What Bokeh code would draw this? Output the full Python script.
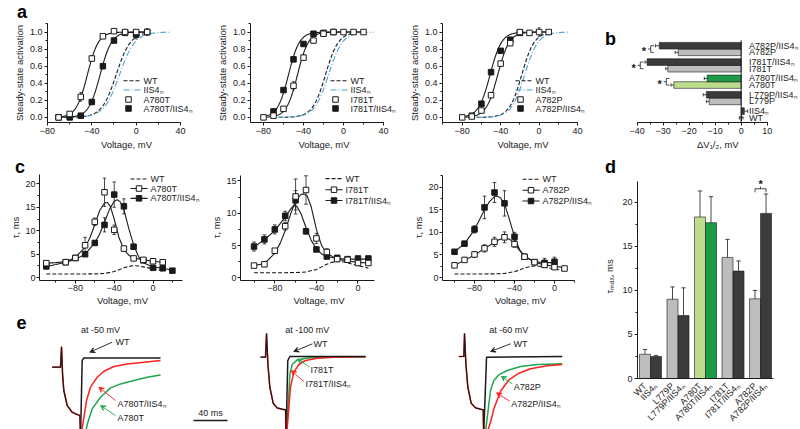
import numpy as np
from bokeh.plotting import figure
from bokeh.layouts import row, column
from bokeh.models import (Range1d, SingleIntervalTicker, FixedTicker, Arrow, VeeHead,
                          PrintfTickFormatter, Div)
from bokeh.core.properties import value
from bokeh.embed import file_html
from bokeh.resources import INLINE

FONT = "Liberation Sans"
IIS4 = "IIS4\u2099"
INK = "#1a1a1a"
LIGHT = "#bdbdbd"
DARK = "#3b3b3b"
LGREEN = "#bcdd8e"
GREEN = "#1d9b45"
BLUE = "#4aa5d0"
RED = "#ff2020"
TGREEN = "#20a64c"

# ---------------- panel a : steady-state activation ----------------
WT_FIT = (-18.0, 6.5)          # V1/2, slope
IIS4_FIT = (-15.0, 7.0)

a1_V = [-70, -60, -50, -40, -30, -20, -10, 0, 10]
a1_mut = [0.0, 0.04, 0.24, 0.69, 0.95, 1.01, 1.0, 1.0, 1.0]
a1_mut_err = [0.0, 0.01, 0.05, 0.03, 0.02, 0.02, 0.02, 0.02, 0.04]
a1_dbl_V = [-70, -60, -50, -40, -30, -20, -10, 0, 10]
a1_dbl = [0.0, 0.0, 0.02, 0.18, 0.6, 0.9, 0.99, 0.97, 1.0]
a1_dbl_err = [0.0, 0.0, 0.01, 0.03, 0.03, 0.02, 0.02, 0.05, 0.02]
a1_fit_mut = (-44.0, 5.0)
a1_fit_dbl = (-32.5, 5.2)

a2_V = [-80, -70, -60, -50, -40, -30, -20, -10, 0, 10, 20]
a2_mut = [0.0, 0.02, 0.1, 0.37, 0.7, 0.9, 0.98, 1.0, 1.0, 1.0, 1.0]
a2_mut_err = [0, 0, 0.02, 0.05, 0.03, 0.02, 0.01, 0.01, 0.01, 0.01, 0.01]
a2_dbl_V = [-70, -60, -50, -40, -30, -20, -10]
a2_dbl = [0.07, 0.32, 0.68, 0.86, 0.98, 0.99, 1.0]
a2_dbl_err = [0.01, 0.02, 0.03, 0.02, 0.02, 0.01, 0.01]
a2_fit_mut = (-46.0, 5.5)
a2_fit_dbl = (-55.0, 5.5)

a3_V = [-80, -70, -60, -50, -40, -30, -20, -10, 0, 10]
a3_mut = [0.0, 0.01, 0.08, 0.26, 0.63, 0.87, 1.0, 0.99, 1.0, 1.0]
a3_mut_err = [0, 0, 0.01, 0.03, 0.03, 0.02, 0.02, 0.02, 0.05, 0.02]
a3_dbl_V = [-70, -60, -50, -40, -30, -20]
a3_dbl = [0.02, 0.16, 0.53, 0.78, 0.91, 0.99]
a3_dbl_err = [0.01, 0.02, 0.03, 0.02, 0.02, 0.01]
a3_fit_mut = (-43.0, 6.0)
a3_fit_dbl = (-51.0, 6.0)

# ---------------- panel b : shift of V1/2 ----------------
b_labels = ["WT", IIS4, "L779P", "L779P/" + IIS4, "A780T", "A780T/" + IIS4,
            "I781T", "I781T/" + IIS4, "A782P", "A782P/" + IIS4]
b_dv = [0.0, 1.2, -12.3, -13.4, -25.9, -13.1, -28.2, -36.2, -24.2, -31.5]
b_err = [0.7, 1.3, 1.0, 1.2, 1.1, 1.1, 0.8, 0.8, 1.2, 1.5]
b_colors = [LIGHT, DARK, LIGHT, DARK, LGREEN, GREEN, LIGHT, DARK, LIGHT, DARK]
b_sig_pairs = [(4, 5), (6, 7), (8, 9)]

# ---------------- panel c : activation time constants ----------------
c_wt_V = [-110, -100, -90, -80, -70, -60, -50, -40, -35, -30, -25, -20, -15, -10, 0, 10]
c_wt_tau = [0.8, 0.8, 0.8, 0.8, 0.8, 0.82, 0.9, 1.3, 1.7, 2.1, 2.4, 2.55, 2.5, 2.3, 1.9, 1.5]

c1_V = [-110, -90, -80, -70, -60, -50, -40, -30, -20, -10, 0, 10]
c1_mut = [3.1, 3.3, 4.2, 6.9, 11.9, 18.2, 10.2, 6.2, 4.1, 3.8, 3.5, 3.3]
c1_mut_err = [0.2, 0.2, 0.3, 1.7, 0.8, 3.0, 1.0, 0.5, 0.3, 0.3, 0.3, 0.3]
c1_dbl_V = [-110, -90, -80, -70, -60, -50, -40, -30, -20, -10, 0, 10, 20]
c1_dbl = [2.4, 3.3, 4.2, 5.0, 7.4, 11.25, 17.7, 15.2, 6.6, 3.7, 2.1, 2.0, 1.5]
c1_dbl_err = [0.2, 0.2, 0.3, 0.4, 0.5, 1.5, 2.7, 1.6, 0.5, 0.3, 0.2, 0.2, 0.1]
c1_fitV_mut = [-110, -100, -90, -80, -70, -65, -60, -55, -50, -47, -44, -40, -35, -30, -25, -20, -10, 0, 10]
c1_fit_mut = [3.1, 3.2, 3.4, 4.3, 6.5, 8.5, 11.3, 14.3, 15.9, 16.0, 15.2, 12.5, 8.5, 6.0, 4.8, 4.2, 3.8, 3.5, 3.3]
c1_fitV_dbl = [-110, -100, -90, -80, -70, -60, -55, -50, -45, -40, -37, -34, -30, -25, -20, -15, -10, 0, 10, 20]
c1_fit_dbl = [2.4, 2.8, 3.3, 3.9, 5.0, 7.4, 9.3, 11.8, 14.5, 16.3, 16.6, 16.2, 14.5, 10.5, 7.0, 4.5, 3.2, 2.3, 2.0, 1.6]

c2_V = [-100, -90, -80, -70, -60, -50, -40, -30, -20, -10, 0, 10]
c2_mut = [1.9, 2.1, 4.2, 8.0, 12.6, 13.6, 6.1, 4.0, 2.9, 2.8, 2.3, 2.3]
c2_mut_err = [0.2, 0.2, 0.3, 0.6, 2.7, 2.2, 0.8, 0.5, 0.3, 0.2, 0.4, 0.3]
c2_dbl_V = [-100, -90, -80, -70, -60, -50, -40, -30, -20, -10, 0, 10]
c2_dbl = [4.85, 5.95, 7.5, 9.6, 12.0, 7.2, 4.4, 3.3, 3.1, 2.9, 3.0, 3.0]
c2_dbl_err = [0.7, 0.7, 0.7, 0.7, 1.5, 0.4, 0.3, 0.3, 0.3, 0.2, 0.3, 0.3]
c2_fitV_mut = [-100, -90, -80, -75, -70, -65, -60, -55, -52, -49, -45, -40, -35, -30, -20, -10, 0, 10]
c2_fit_mut = [1.9, 2.2, 3.8, 5.3, 7.3, 9.8, 11.9, 12.9, 13.0, 12.7, 11.0, 7.5, 5.0, 3.8, 2.9, 2.6, 2.4, 2.3]
c2_fitV_dbl = [-100, -90, -80, -70, -65, -62, -59, -55, -50, -45, -40, -35, -30, -20, -10, 0, 10]
c2_fit_dbl = [4.8, 5.9, 7.3, 9.4, 10.6, 11.2, 11.1, 10.0, 7.8, 5.8, 4.5, 3.7, 3.3, 3.0, 2.9, 2.9, 2.9]

c3_V = [-100, -90, -80, -70, -60, -50, -40, -30, -20, -10, 0, 10]
c3_mut = [2.7, 3.9, 5.1, 6.45, 7.9, 8.9, 7.4, 4.6, 3.4, 2.8, 2.3, 2.0]
c3_mut_err = [0.3, 0.4, 0.6, 0.8, 1.0, 1.2, 0.7, 0.4, 0.3, 0.3, 0.3, 0.3]
c3_dbl_V = [-100, -90, -80, -70, -60, -50, -40, -30, -20, -10, 0]
c3_dbl = [5.7, 7.5, 10.65, 15.5, 18.8, 16.4, 9.0, 4.6, 3.4, 3.25, 3.5]
c3_dbl_err = [0.4, 0.5, 0.8, 2.5, 2.2, 2.8, 1.0, 0.4, 0.4, 1.0, 1.0]
c3_fitV_mut = [-100, -90, -80, -70, -60, -55, -50, -45, -40, -35, -30, -20, -10, 0, 10]
c3_fit_mut = [2.7, 3.8, 5.0, 6.4, 7.8, 8.4, 8.7, 8.5, 7.5, 6.0, 4.7, 3.4, 2.8, 2.5, 2.2]
c3_fitV_dbl = [-100, -90, -80, -75, -70, -65, -60, -57, -54, -50, -45, -40, -35, -30, -20, -10, 0]
c3_fit_dbl = [5.7, 7.5, 10.6, 12.8, 15.0, 16.8, 17.9, 18.0, 17.6, 16.3, 12.8, 9.0, 6.2, 4.7, 3.5, 3.3, 3.3]

# ---------------- panel d : tau max ----------------
d_labels = b_labels
d_tau = [2.75, 2.5, 9.0, 7.15, 18.35, 17.7, 13.75, 12.2, 9.05, 18.75]
d_err = [0.55, 0.12, 1.4, 3.15, 2.95, 2.95, 2.05, 1.15, 0.95, 2.2]
d_colors = b_colors
d_sig_pairs = [(8, 9)]

# ---------------- panel e : current traces (time ms, current a.u.) ----------------
e1_pre_t = [-11, -1.2, 0, 1.2, 2.7, 6.7, 12.5, 18.4, 21.6, 22.4]
e1_pre_I = [0, 0, 2.0, -0.67, -2.33, -3.83, -4.5, -4.73, -4.83, -7.0]
e1_wt_t = [22.4, 24.3, 26.3, 116.5]
e1_wt_I = [-7.0, 0.67, 0.93, 0.93]
e1_dbl_t = [22.4, 25.5, 29.4, 34.1, 42, 49.8, 61.6, 77.3, 96.9, 116.5]
e1_dbl_I = [-7.0, -5.5, -3.33, -2.0, -1.0, -0.4, 0.07, 0.33, 0.5, 0.67]
e1_mut_t = [24, 31, 36, 45.9, 57.6, 69.4, 85.1, 100.8, 116.5]
e1_mut_I = [-8.0, -5.5, -4.17, -3.0, -2.07, -1.67, -1.33, -1.0, -0.77]

e2_pre_t = [-7, -1.2, 0, 1.6, 3.9, 7.8, 12.5, 18.4, 22.4, 23]
e2_pre_I = [0, 0, 2.33, -0.67, -3.0, -4.6, -5.07, -5.2, -5.27, -8.0]
e2_wt_t = [23, 25, 27.5, 116.5]
e2_wt_I = [-8.0, -0.33, 0.07, 0.07]
e2_mut_t = [23.5, 27.5, 30.2, 36.1, 47.8, 71.4, 116.5]
e2_mut_I = [-8.0, -1.67, -0.73, -0.27, -0.07, 0.0, 0.05]
e2_dbl_t = [23.5, 28.2, 32.2, 38, 45.9, 59.6, 79, 116.5]
e2_dbl_I = [-8.0, -3.0, -1.5, -0.73, -0.33, -0.1, 0.0, 0.05]

e3_pre_t = [-6.7, -0.8, 0, 1.6, 3.9, 7.8, 12.9, 18.8, 22, 22.5]
e3_pre_I = [0, 0, 2.27, -0.73, -3.07, -4.67, -5.13, -5.27, -5.33, -8.0]
e3_wt_t = [22.5, 25.9, 114.9]
e3_wt_I = [-8.0, -0.07, 0.0]
e3_mut_t = [24, 28.2, 30.6, 34.5, 40.4, 50.2, 65.9, 85.5, 114.9]
e3_mut_I = [-8.0, -5.07, -3.4, -2.4, -1.83, -1.4, -1.0, -0.8, -0.73]
e3_dbl_t = [25, 30.6, 34.5, 42.4, 52.2, 63.9, 77.6, 97.3, 114.9]
e3_dbl_I = [-8.0, -6.57, -5.23, -3.47, -2.33, -1.67, -1.23, -0.93, -0.8]


def boltz(v, vh, k):
    return 1.0 / (1.0 + np.exp((vh - v) / k))


class Geo:
    """Frame geometry of a figure placed at page offset (ox, oy): page px -> data."""
    def __init__(self, ox, oy, w, h, bl, br, bt, bb, xr, yr):
        self.fl, self.fr = ox + bl, ox + w - br
        self.ft, self.fb = oy + bt, oy + h - bb
        self.xr, self.yr = xr, yr

    def x(self, X):
        return self.xr[0] + (X - self.fl) / (self.fr - self.fl) * (self.xr[1] - self.xr[0])

    def y(self, Y):
        return self.yr[1] - (Y - self.ft) / (self.fb - self.ft) * (self.yr[1] - self.yr[0])


def make_fig(ox, oy, w, h, xr, yr, bl, br, bt, bb, xaxis=True, yaxis=True, lab_off=2,
             ax_off=2):
    kw = dict(width=w, height=h, x_range=Range1d(*xr), y_range=Range1d(*yr),
              output_backend="svg", toolbar_location=None,
              min_border_left=bl, min_border_right=br, min_border_top=bt, min_border_bottom=bb)
    if not xaxis:
        kw["x_axis_location"] = None
    if not yaxis:
        kw["y_axis_location"] = None
    p = figure(**kw)
    p.grid.visible = False
    p.outline_line_color = None
    p.border_fill_color = "white"
    p.background_fill_color = "white"
    for ax in p.axis:
        ax.axis_line_color = INK
        ax.axis_line_width = 1
        ax.major_tick_line_color = INK
        ax.minor_tick_line_color = INK
        ax.major_tick_in = 0
        ax.major_tick_out = 3
        ax.minor_tick_in = 0
        ax.minor_tick_out = 2
        ax.major_label_text_font = FONT
        ax.major_label_text_font_size = "9px"
        ax.major_label_text_color = INK
        ax.axis_label_text_font = FONT
        ax.axis_label_text_font_size = "9.5px"
        ax.axis_label_text_font_style = "normal"
        ax.axis_label_text_color = INK
        ax.major_label_standoff = lab_off
        ax.axis_label_standoff = ax_off
    return p, Geo(ox, oy, w, h, bl, br, bt, bb, xr, yr)


def letter_div(w, h, txt, cx, base):
    top = base - (h / 2.0 + 6.25)
    html = ('<div style="position:relative;left:%.1fpx;top:%.1fpx;width:20px;height:%dpx;'
            'text-align:center;font-family:\'Liberation Sans\',sans-serif;font-weight:bold;'
            'font-size:18px;line-height:%dpx;color:#000;">%s</div>'
            % (cx - 10, top, h, h, txt))
    return Div(text=html, width=w, height=h, margin=0)


def letter_in(p, txt, x, y):
    p.text(x=[x], y=[y], text=[txt], text_font=value(FONT), text_font_style="bold",
           text_font_size="18px", text_align="center", text_baseline="alphabetic",
           text_color="black")


def txt(p, x, y, s, size="9px", align="left"):
    p.text(x=[x], y=[y], text=[s], text_font=value(FONT), text_font_size=size,
           text_align=align, text_baseline="middle", text_color=INK)


def v_err(p, x, y, e, cap, up_only=False, lw=0.8):
    x = np.asarray(x, float)
    y = np.asarray(y, float)
    e = np.asarray(e, float)
    m = e > 0
    x, y, e = x[m], y[m], e[m]
    lo = y if up_only else y - e
    hi = y + e
    p.segment(x, lo, x, hi, line_color=INK, line_width=lw)
    p.segment(x - cap, hi, x + cap, hi, line_color=INK, line_width=lw)
    if not up_only:
        p.segment(x - cap, lo, x + cap, lo, line_color=INK, line_width=lw)


LINE_WT = dict(line_color=INK, line_width=1.1, line_dash="4 2")
LINE_II = dict(line_color=BLUE, line_width=1.1, line_dash="6 2 1 2")
LINE_FIT = dict(line_color=INK, line_width=1.1)
MK_OPEN = dict(marker="square", size=5.5, fill_color="white", line_color=INK, line_width=1)
MK_FILL = dict(marker="square", size=5.5, fill_color=INK, line_color=INK)


def manual_legend(p, g, entries, gx0, gx1, tx, rows, mk_x=None):
    for (label, line_st, mk_st), Y in zip(entries, rows):
        y = g.y(Y)
        if line_st is not None:
            p.line([g.x(gx0), g.x(gx1)], [y, y], **line_st)
        if mk_st is not None:
            mx = mk_x if mk_x is not None else 0.5 * (gx0 + gx1)
            p.scatter([g.x(mx)], [y], **mk_st)
        txt(p, g.x(tx), y, label)


def panel_a(ox, oy, w, h, bt, bl, xr, xb, V_m, y_m, e_m, V_d, y_d, e_d, fit_m, fit_d, crange,
            name, gx0):
    p, g = make_fig(ox, oy, w, h, xr, (-0.06, 1.1), bl, 0, bt, 30)
    p.xaxis.bounds = xb
    p.xaxis.ticker = SingleIntervalTicker(interval=40, num_minor_ticks=2)
    p.yaxis.ticker = SingleIntervalTicker(interval=0.2, num_minor_ticks=2)
    p.yaxis.formatter = PrintfTickFormatter(format="%.1f")
    p.xaxis.axis_label = "Voltage, mV"
    p.yaxis.axis_label = "Steady-state activation"
    vw = np.linspace(-65, 10, 150)
    p.line(vw, boltz(vw, *WT_FIT), **LINE_WT)
    vi = np.linspace(-65, 30, 150)
    p.line(vi, boltz(vi, *IIS4_FIT), **LINE_II)
    vc = np.linspace(crange[0], crange[1], 200)
    p.line(vc, boltz(vc, *fit_m), **LINE_FIT)
    p.line(vc, boltz(vc, *fit_d), **LINE_FIT)
    v_err(p, V_d, y_d, e_d, 1.2)
    v_err(p, V_m, y_m, e_m, 1.2)
    p.scatter(V_d, y_d, **MK_FILL)
    p.scatter(V_m, y_m, **MK_OPEN)
    manual_legend(p, g, [("WT", LINE_WT, None), (IIS4, LINE_II, None),
                         (name, None, MK_OPEN), (name + "/" + IIS4, None, MK_FILL)],
                  gx0, gx0 + 17, gx0 + 20, [80.3, 89.5, 99.0, 108.0], mk_x=gx0 + 5)
    return p


def panel_c(ox, oy, w, h, bl, bt, xr, xb, yr, yb, V_m, y_m, e_m, V_d, y_d, e_d, fV_m, f_m,
            fV_d, f_d, wt_from, name, gx0, rows):
    p, g = make_fig(ox, oy, w, h, xr, yr, bl, 0, bt, 26, lab_off=1, ax_off=1)
    p.xaxis.bounds = xb
    p.yaxis.bounds = yb
    p.xaxis.ticker = SingleIntervalTicker(interval=40, num_minor_ticks=2)
    p.yaxis.ticker = SingleIntervalTicker(interval=5, num_minor_ticks=2)
    p.xaxis.axis_label = "Voltage, mV"
    p.yaxis.axis_label = "\u03c4, ms"
    p.line(c_wt_V[wt_from:], c_wt_tau[wt_from:], **LINE_WT)
    p.line(fV_m, f_m, **LINE_FIT)
    p.line(fV_d, f_d, **LINE_FIT)
    v_err(p, V_d, y_d, e_d, 1.8)
    v_err(p, V_m, y_m, e_m, 1.8)
    p.scatter(V_d, y_d, **MK_FILL)
    p.scatter(V_m, y_m, **MK_OPEN)
    manual_legend(p, g, [("WT", LINE_WT, None), (name, LINE_FIT, MK_OPEN),
                         (name + "/" + IIS4, LINE_FIT, MK_FILL)],
                  gx0, gx0 + 17, gx0 + 20, rows)
    return p


def panel_e(ox, w, xr, yr, pre_t, pre_I, traces, texts, arrows):
    p, g = make_fig(ox, 308, w, 121, xr, yr, 0, 0, 0, 0, xaxis=False, yaxis=False)
    for t, I, c in traces:
        p.line(t, I, line_color=c, line_width=1.5, line_join="round")
    p.line(pre_t, pre_I, line_color=RED, line_width=1.6, line_join="round")
    p.line(pre_t, pre_I, line_color=INK, line_width=1.2, line_join="round")
    for s, x, y, al in texts:
        txt(p, x, y, s, align=al)
    for x0, y0, x1, y1, c in arrows:
        p.add_layout(Arrow(x_start=x0, y_start=y0, x_end=x1, y_end=y1, line_color=c,
                           line_width=0.9,
                           end=VeeHead(size=5, line_color=c, fill_color=c, line_width=0.9)))
    return p


# ---------------- row 1 (y 0-152) ----------------
sa = letter_div(205, 23, "a", 22, 18.5)
pa1 = panel_a(0, 23, 205, 129, 0, 47, (-80, 62.6), (-80, 40), a1_V, a1_mut, a1_mut_err,
              a1_dbl_V, a1_dbl, a1_dbl_err, a1_fit_mut, a1_fit_dbl, (-70, 10), "A780T", 123)
pa2 = panel_a(205, 0, 192, 152, 23, 45, (-93, 54), (-93, 40), a2_V, a2_mut, a2_mut_err,
              a2_dbl_V, a2_dbl, a2_dbl_err, a2_fit_mut, a2_fit_dbl, (-80, 20), "I781T", 330)
pa3 = panel_a(397, 0, 206, 152, 23, 45, (-100.5, 67.0), (-100.5, 40), a3_V, a3_mut,
              a3_mut_err, a3_dbl_V, a3_dbl, a3_dbl_err, a3_fit_mut, a3_fit_dbl, (-80, 10),
              "A782P", 515)

# panel b
pb, gb = make_fig(603, 0, 197, 152, (-52.96, 22.81), (-0.22, 14.74), 0, 0, 0, 28, yaxis=False)
pb.xaxis.bounds = (-40, 10)
pb.xaxis.ticker = SingleIntervalTicker(interval=10, num_minor_ticks=2)
pb.xaxis.axis_label = "\u00a0" * 12 + "\u0394V\u2081/\u2082, mV"
b_y = [(i // 2) * 2.47 + 0.5 + (i % 2) for i in range(len(b_dv))]
b_left = [min(0.0, v) for v in b_dv]
b_right = [max(0.0, v) for v in b_dv]
pb.hbar(y=b_y, left=b_left, right=b_right, height=1.0, fill_color=b_colors,
        line_color=INK, line_width=0.6)
ex0, ex1, ey, cx, cy0, cy1 = [], [], [], [], [], []
for v, e, y in zip(b_dv, b_err, b_y):
    if v < 0:
        s0, s1 = v, v - e
        caps = [s1]
    elif v > 0:
        s0, s1 = v, v + e
        caps = [s1]
    else:
        s0, s1 = -e, e
        caps = [-e, e]
    ex0.append(s0); ex1.append(s1); ey.append(y)
    for c in caps:
        cx.append(c); cy0.append(y - 0.25); cy1.append(y + 0.25)
pb.segment(ex0, ey, ex1, ey, line_color=INK, line_width=0.8)
pb.segment(cx, cy0, cx, cy1, line_color=INK, line_width=0.8)
pb.segment([0], [-0.22], [0], [12.2], line_color=INK, line_width=1)
pb.text(x=[3.0] * len(b_y), y=b_y, text=b_labels, text_font=value(FONT), text_font_size="9px",
        text_align="left", text_baseline="middle", text_color=INK)
for lo, hi in b_sig_pairs:
    xb = min(b_dv[lo] - b_err[lo], b_dv[hi] - b_err[hi]) - 1.8
    y0, y1 = b_y[lo], b_y[hi]
    ym = 0.5 * (y0 + y1)
    pb.segment([xb, xb, xb, xb - 1.0], [y0, y0, y1, ym], [xb, xb + 1.2, xb + 1.2, xb],
               [y1, y0, y1, ym], line_color=INK, line_width=0.8)
    pb.text(x=[xb - 2.6], y=[ym - 0.35], text=["*"], text_font=value(FONT),
            text_font_size="11px", text_font_style="bold", text_align="center",
            text_baseline="middle", text_color=INK)
letter_in(pb, "b", gb.x(610), gb.y(19))

# ---------------- letter strip (y 152-174) ----------------
sc = letter_div(598, 22, "c", 20, 21.3)
sd = letter_div(202, 22, "d", 12.5, 21.3)

# ---------------- row 2 : c (y 174-308) ----------------
pc1 = panel_c(0, 174, 205, 134, 39, 0, (-117, 54.1), (-117, 30), (-0.6, 21.98), (-0.6, 21.98),
              c1_V, c1_mut, c1_mut_err, c1_dbl_V, c1_dbl, c1_dbl_err, c1_fitV_mut, c1_fit_mut,
              c1_fitV_dbl, c1_fit_dbl, 0, "A780T", 130, [178.6, 188.3, 198.3])
pc2 = panel_c(205, 174, 192, 134, 35, 0, (-113, 38), (-113, 16), (-0.41, 16.0), (-0.41, 15.9),
              c2_V, c2_mut, c2_mut_err, c2_dbl_V, c2_dbl, c2_dbl_err, c2_fitV_mut, c2_fit_mut,
              c2_fitV_dbl, c2_fit_dbl, 1, "I781T", 325, [178.2, 189.5, 200.5])
pc3 = panel_c(397, 174, 201, 134, 45, 0, (-112, 44), (-112, 20), (-0.65, 22.78), (-0.65, 22.6),
              c3_V, c3_mut, c3_mut_err, c3_dbl_V, c3_dbl, c3_dbl_err, c3_fitV_mut, c3_fit_mut,
              c3_fitV_dbl, c3_fit_dbl, 1, "A782P", 522, [178.8, 190.0, 201.0])

# ---------------- panel d (y 174-429) ----------------
d_x = [10 * (i // 2) + 3 + 4 * (i % 2) for i in range(len(d_tau))]
pd, gd = make_fig(598, 174, 202, 255, (0.27, 49.72), (0, 23.17), 39, 27, 0, 46)
pd.yaxis.bounds = (0, 22.4)
pd.vbar(x=d_x, top=d_tau, bottom=0, width=4, fill_color=d_colors, line_color=INK,
        line_width=0.6)
v_err(pd, d_x, d_tau, d_err, 0.8, up_only=True)
pd.xaxis.ticker = FixedTicker(ticks=d_x)
pd.xaxis.major_label_overrides = {x: lab for x, lab in zip(d_x, d_labels)}
pd.xaxis.major_label_orientation = float(np.pi / 4)
pd.xaxis.major_tick_line_color = None
pd.xaxis.major_label_standoff = 3
pd.yaxis.ticker = SingleIntervalTicker(interval=5, num_minor_ticks=2)
pd.yaxis.axis_label = "\u03c4\u2098\u2090\u2093, ms"
pd.yaxis.axis_label_standoff = 4
for lo, hi in d_sig_pairs:
    yb = max(d_tau[lo] + d_err[lo], d_tau[hi] + d_err[hi]) + 0.6
    x0, x1 = d_x[lo], d_x[hi]
    xm = 0.5 * (x0 + x1)
    pd.segment([x0, x0, x1, xm], [yb, yb, yb, yb], [x1, x0, x1, xm],
               [yb, yb - 0.4, yb - 0.4, yb + 0.25], line_color=INK, line_width=0.8)
    pd.text(x=[xm], y=[yb + 0.55], text=["*"], text_font=value(FONT), text_font_size="11px",
            text_font_style="bold", text_align="center", text_baseline="middle",
            text_color=INK)

# ---------------- panel e (y 308-429) ----------------
pe1 = panel_e(0, 248, (-71.8, 220), (-6.23, 5.87), e1_pre_t, e1_pre_I,
              [(e1_mut_t, e1_mut_I, TGREEN), (e1_dbl_t, e1_dbl_I, RED), (e1_wt_t, e1_wt_I, INK)],
              [("at -50 mV", 45.9, 3.74, "center"), ("WT", 63.5, 2.57, "left"),
               ("A780T/" + IIS4, 65.9, -3.63, "left"), ("A780T", 65.9, -5.1, "left"),
               ("40 ms", 175.3, -4.6, "center")],
              [(59.6, 2.5, 33.3, 1.5, INK), (63.5, -3.33, 43.9, -2.0, RED),
               (63.5, -4.83, 45.9, -3.83, TGREEN)])
pe1.line([155.3, 195.3], [-5.33, -5.33], line_color=INK, line_width=1.3)
letter_in(pe1, "e", -47, 4.5)
pe2 = panel_e(248, 160, (-21.2, 167), (-7.23, 4.87), e2_pre_t, e2_pre_I,
              [(e2_mut_t, e2_mut_I, TGREEN), (e2_dbl_t, e2_dbl_I, RED), (e2_wt_t, e2_wt_I, INK)],
              [("at -100 mV", 47.9, 2.74, "center"), ("WT", 55.3, 1.37, "left"),
               ("I781T", 51.8, -1.26, "left"), ("I781T/" + IIS4, 45.9, -2.66, "left")],
              [(54.1, 1.34, 32.1, 0.57, INK), (50.6, -0.98, 36.5, -0.18, TGREEN),
               (43.9, -2.43, 29.1, -1.33, RED)])
pe3 = panel_e(408, 190, (-65.9, 157.6), (-7.3, 4.8), e3_pre_t, e3_pre_I,
              [(e3_mut_t, e3_mut_I, TGREEN), (e3_dbl_t, e3_dbl_I, RED), (e3_wt_t, e3_wt_I, INK)],
              [("at -60 mV", 52.1, 2.67, "center"), ("WT", 57.6, 1.3, "left"),
               ("A782P", 58.0, -3.0, "left"), ("A782P/" + IIS4, 54.9, -4.73, "left")],
              [(54.1, 1.27, 30.6, 0.5, INK), (56.1, -2.73, 43.2, -1.97, TGREEN),
               (53.3, -4.47, 37.6, -3.63, RED)])

layout = column(
    row(column(sa, pa1), pa2, pa3, pb),
    row(sc, sd),
    row(column(row(pc1, pc2, pc3), row(pe1, pe2, pe3)), column(pd)),
)

open("out.html", "w").write(file_html(layout, INLINE, "Figure"))
